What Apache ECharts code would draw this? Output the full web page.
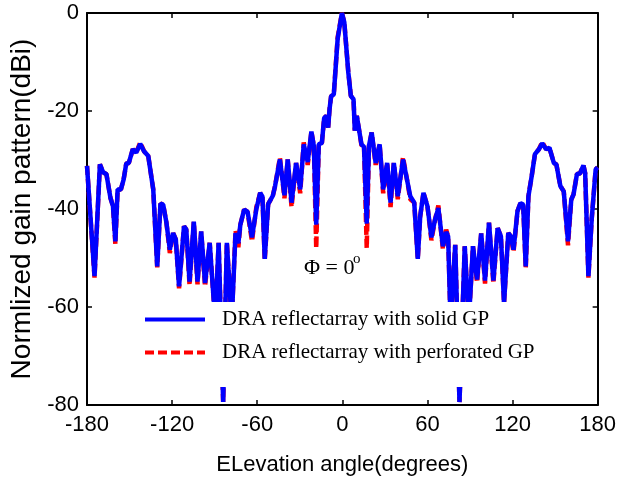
<!DOCTYPE html>
<html>
<head>
<meta charset="utf-8">
<script src="https://cdn.jsdelivr.net/npm/echarts@6/dist/echarts.min.js"></script>
<style>
  html, body { margin: 0; padding: 0; background: #fff; }
  #chart { width: 619px; height: 482px; }
</style>
</head>
<body>
<div id="chart"></div>
<script>
// Elevation angle (degrees)
const angles = [
  -180, -174.7, -170.9, -168.6, -166.3, -163.5, -161.7, -160.0, -158.4, -156.1,
  -154.2, -152.3, -150.5, -147.7, -145.3, -142.5, -139.8, -136.8, -133.3, -130.5,
  -128.2, -126.3, -124.0, -121.6, -119.3, -117.4, -115.1, -111.6, -110.0, -107.7,
  -104.7, -102.1, -99.5, -96.8, -93.5, -89.6, -87.2, -84.0, -81.4, -78.0,
  -75.3, -73.3, -71.9, -69.2, -66.8, -63.7, -60.6, -57.9, -56.3, -54.7,
  -52.3, -49.0, -47.4, -44.0, -40.8, -38.5, -35.8, -32.6, -29.7, -27.2,
  -24.4, -21.8, -20.1, -18.4, -16.6, -14.4, -12.8, -11.2, -10.0, -9.0,
  -7.9, -6.0, -3.3, -0.3, 1.4, 4.2, 6.0, 7.9, 8.8, 10.2,
  11.6, 13.5, 15.3, 17.2, 18.8, 20.7, 23.5, 26.3, 28.8, 31.6,
  34.0, 36.3, 39.1, 42.8, 45.6, 47.9, 50.7, 53.2, 54.9, 57.2,
  60.0, 62.8, 65.4, 67.7, 70.9, 73.2, 74.6, 76.3, 79.6, 82.6,
  86.3, 89.2, 92.1, 95.0, 97.9, 100.6, 103.4, 106.5, 109.5, 111.8,
  114.0, 117.0, 118.8, 120.7, 123.5, 125.6, 127.5, 129.3, 131.2, 133.5,
  135.8, 138.6, 140.9, 143.7, 146.0, 149.1, 150.9, 153.7, 156.1, 159.1,
  161.4, 163.0, 165.4, 167.6, 170.0, 171.2, 173.5, 175.8, 178.6, 180
];

// Normalized gain (dBi), solid ground plane
const solidGP = [
  -31.2, -53.7, -30.9, -32.5, -32.9, -37.7, -39.4, -46.6, -36.0, -36.0,
  -34.0, -30.7, -30.6, -27.8, -28.5, -26.7, -28.2, -29.2, -36.0, -51.7,
  -38.9, -39.1, -42.8, -48.3, -44.9, -46.2, -55.8, -43.5, -44.2, -54.8,
  -42.6, -54.8, -44.6, -55.1, -46.9, -63.0, -46.9, -79.4, -46.9, -63.0,
  -44.9, -47.0, -43.2, -40.1, -40.6, -45.8, -40.0, -36.7, -37.5, -50.2,
  -39.0, -37.3, -35.3, -29.9, -37.2, -29.9, -38.7, -30.6, -36.0, -26.8,
  -30.4, -24.2, -27.1, -43.2, -26.8, -26.5, -21.4, -21.0, -23.4, -19.6,
  -17.0, -16.6, -5.3, 0, -1.9, -12.1, -16.9, -17.6, -24.0, -21.0,
  -23.5, -26.8, -27.3, -43.0, -27.1, -24.4, -30.6, -26.8, -36.0, -30.6,
  -38.7, -30.6, -37.4, -29.9, -34.0, -37.4, -38.7, -50.2, -41.5, -36.7,
  -39.4, -45.8, -42.1, -39.8, -47.6, -44.7, -45.6, -63.0, -47.3, -79.4,
  -47.6, -63.0, -47.6, -54.4, -45.0, -54.6, -42.8, -54.6, -43.9, -45.6,
  -59.2, -44.9, -45.6, -48.3, -40.4, -38.8, -39.1, -51.7, -37.4, -33.3,
  -28.8, -27.8, -26.6, -27.8, -27.5, -30.6, -30.9, -35.3, -36.4, -46.6,
  -38.1, -37.0, -32.9, -32.7, -31.1, -32.7, -53.7, -42.1, -31.9, -31.5
];

// Normalized gain (dBi), perforated ground plane
const perforatedGP = [
  -31.2, -54.0, -30.9, -32.5, -32.9, -37.7, -39.4, -47.2, -36.0, -36.0,
  -34.0, -30.7, -30.6, -27.8, -28.5, -26.4, -28.2, -29.2, -36.0, -51.9,
  -38.9, -39.1, -42.8, -49.0, -44.9, -46.2, -56.2, -43.5, -44.2, -55.6,
  -42.6, -55.4, -44.6, -55.8, -46.9, -63.0, -46.9, -79.4, -46.9, -63.0,
  -44.4, -47.8, -43.2, -40.1, -40.6, -46.6, -39.6, -36.7, -37.5, -50.5,
  -39.0, -37.3, -35.3, -29.5, -37.8, -29.9, -39.6, -30.6, -36.8, -26.4,
  -31.0, -24.2, -27.1, -48.0, -26.8, -26.5, -21.4, -21.0, -23.4, -19.6,
  -17.0, -16.6, -5.0, 0, -1.9, -12.0, -16.9, -17.6, -24.0, -21.0,
  -23.5, -27.0, -27.3, -48.0, -27.1, -24.4, -31.0, -26.8, -36.8, -30.6,
  -39.6, -30.6, -38.0, -29.4, -34.0, -38.0, -38.7, -50.2, -41.5, -36.7,
  -39.4, -46.4, -42.1, -39.3, -48.2, -44.2, -45.6, -63.0, -47.3, -79.4,
  -47.6, -63.0, -47.6, -55.0, -45.0, -55.2, -42.8, -55.2, -43.9, -45.6,
  -59.2, -44.9, -45.6, -48.8, -40.4, -38.8, -39.1, -52.2, -37.4, -33.3,
  -28.8, -27.8, -26.3, -27.8, -27.5, -30.6, -30.9, -35.3, -36.4, -47.4,
  -38.1, -37.0, -32.9, -32.7, -31.1, -32.7, -54.0, -42.1, -31.9, -31.5
];

const seriesNames = ['DRA reflectarray with solid GP', 'DRA reflectarray with perforated GP'];

const sans = "'Liberation Sans', Arial, sans-serif";
const serif = "'Liberation Serif', 'Times New Roman', serif";

const chart = echarts.init(document.getElementById('chart'));

function toPoints(ys) {
  return angles.map((a, i) => [a, ys[i]]);
}

// MATLAB style box: black frame with inward ticks on all four sides
const frameAxis = {
  axisLine: { show: true, onZero: false, lineStyle: { color: '#000', width: 2 } },
  axisTick: { show: true, inside: true, length: 5, lineStyle: { color: '#000', width: 1.5 } },
  splitLine: { show: false }
};

chart.setOption({
  animation: false,
  grid: { left: 86, right: 19, top: 13, bottom: 77 },
  xAxis: [
    Object.assign({}, frameAxis, {
      type: 'value', min: -180, max: 180, interval: 60, position: 'bottom',
      name: 'ELevation angle(degrees)', nameLocation: 'middle', nameGap: 49,
      nameTextStyle: { fontFamily: sans, fontSize: 22, color: '#000' },
      axisLabel: { fontFamily: sans, fontSize: 22, color: '#000', margin: 9 }
    }),
    Object.assign({}, frameAxis, {
      type: 'value', min: -180, max: 180, interval: 60, position: 'top',
      axisLabel: { show: false }
    })
  ],
  yAxis: [
    Object.assign({}, frameAxis, {
      type: 'value', min: -80, max: 0, interval: 20, position: 'left',
      name: 'Normlized gain pattern(dBi)', nameLocation: 'middle', nameGap: 51,
      nameTextStyle: { fontFamily: sans, fontSize: 28, color: '#000' },
      axisLabel: { fontFamily: sans, fontSize: 22, color: '#000', margin: 8 }
    }),
    Object.assign({}, frameAxis, {
      type: 'value', min: -80, max: 0, interval: 20, position: 'right',
      axisLabel: { show: false }
    })
  ],
  legend: {
    data: seriesNames,
    orient: 'vertical',
    left: 133,
    top: 302,
    padding: [7, 12, 24, 10],
    backgroundColor: '#fff',
    itemWidth: 60,
    itemHeight: 14,
    itemGap: 12,
    itemStyle: { opacity: 0 },
    lineStyle: { width: 4 },
    textStyle: { fontFamily: serif, fontSize: 21, color: '#000', padding: [0, 0, 0, 12] }
  },
  graphic: [
    {
      type: 'text', left: 304, top: 257, z: 10,
      style: { text: 'Φ = 0', fontFamily: serif, fontSize: 22, fill: '#000' }
    },
    {
      type: 'text', left: 353, top: 252, z: 10,
      style: { text: 'o', fontFamily: serif, fontSize: 15, fill: '#000' }
    }
  ],
  series: [
    {
      name: seriesNames[1],
      type: 'line',
      data: toPoints(perforatedGP),
      symbol: 'none',
      z: 2,
      lineStyle: { color: '#ff0000', width: 4.5, type: [9, 4] },
      itemStyle: { color: '#ff0000' }
    },
    {
      name: seriesNames[0],
      type: 'line',
      data: toPoints(solidGP),
      symbol: 'none',
      z: 3,
      lineStyle: { color: '#0000ff', width: 4.5 },
      itemStyle: { color: '#0000ff' }
    }
  ]
});
</script>
</body>
</html>
